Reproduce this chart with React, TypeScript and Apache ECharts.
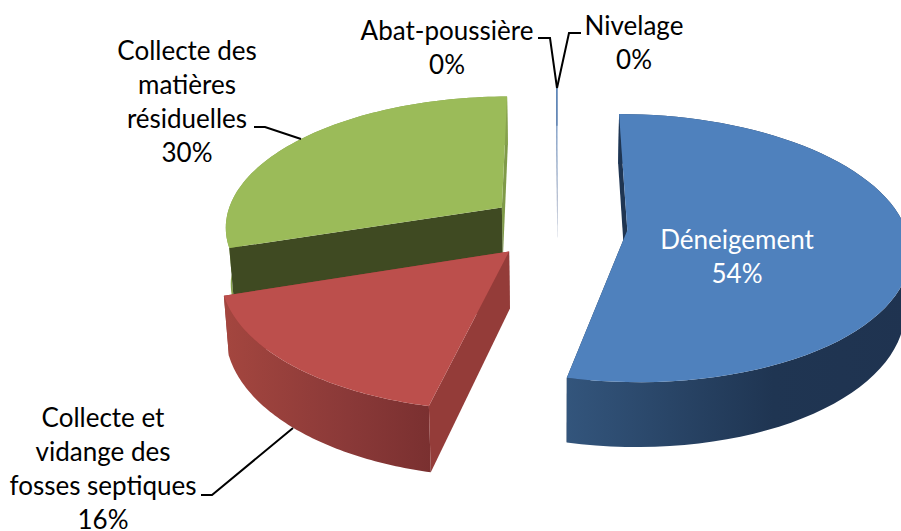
import React, { useEffect, useRef } from "react";
import * as echarts from "echarts";

const categories = ["Déneigement", "Collecte et\nvidange des\nfosses septiques", "Collecte des\nmatières\nrésiduelles", "Abat-poussière", "Nivelage"];
const values = [53.55, 16.45, 29.92, 0.04, 0.04];
const topColors = ["#4f81bd", "#bc4f4c", "#9bbb59", "#4f81bd", "#4f81bd"];
const outerWallStops = [
  ["#33557c", "#1f3552", "#1f3350"],
  ["#a4463f", "#8a3938", "#7a3030"],
  ["#86a24d", "#86a24d", "#86a24d"],
  ["#3a5f8f", "#3a5f8f", "#3a5f8f"],
  ["#3a5f8f", "#3a5f8f", "#3a5f8f"],
];
const startWallColors = ["#1f3552", "#943c39", "#3f4a22", "#8090b0", "#8090b0"];
const endWallColors = ["#1f3552", "#943c39", "#7f9a48", "#8090b0", "#8090b0"];
const sliceDepths = [56, 56, 56, 46, 46];
const paintOrder = [2, 3, 0, 1, 1];

// projection of the pie's ground plane
const VX = 557.5, VY = 226.5, K = 0.47, B = 0.00048, R = 278, EXPLODE = 70, CONVERGE = 0.015;
const total = values.reduce((a, b) => a + b, 0);

function project(X: number, Y: number, depth: number) {
  const s = 1 / (1 + B * Y);
  const x = VX + X * s;
  const y = VY - K * Y * s;
  if (depth === 0) return [x, y];
  return [x + (VX - x) * CONVERGE, y + depth * s];
}

function renderItem(params: any, api: any) {
  const i = params.dataIndex;
  const before = values.slice(0, i).reduce((a, b) => a + b, 0);
  const a0 = (before / total) * Math.PI * 2;
  const a1 = a0 + (api.value(0) / total) * Math.PI * 2;
  const mid = (a0 + a1) / 2;
  const ex = EXPLODE * Math.sin(mid), ey = EXPLODE * Math.cos(mid);
  const n = 72;
  const rim = (depth: number) => {
    const pts: number[][] = [];
    for (let t = 0; t <= n; t++) {
      const a = a0 + ((a1 - a0) * t) / n;
      pts.push(project(ex + R * Math.sin(a), ey + R * Math.cos(a), depth));
    }
    return pts;
  };
  const d = sliceDepths[i];
  const apexTop = project(ex, ey, 0);
  const apexBottom = project(ex, ey, d);
  const rimTop = rim(0);
  const rimBottom = rim(d);
  const base = paintOrder[i] * 10;
  const stops = outerWallStops[i];
  return {
    type: "group",
    children: [
      {
        type: "polygon", z2: base + 1, silent: true,
        shape: { points: [apexTop, rimTop[n], rimBottom[n], apexBottom] },
        style: { fill: endWallColors[i] },
      },
      {
        type: "polygon", z2: base + 2, silent: true,
        shape: { points: [...rimTop, ...rimBottom.slice().reverse()] },
        style: {
          fill: new echarts.graphic.LinearGradient(0, 0, 1, 0, [
            { offset: 0, color: stops[0] },
            { offset: 0.6, color: stops[1] },
            { offset: 1, color: stops[2] },
          ]),
        },
      },
      {
        type: "polygon", z2: base + 3, silent: true,
        shape: { points: [apexTop, rimTop[0], rimBottom[0], apexBottom] },
        style: { fill: startWallColors[i] },
      },
      {
        type: "polygon", z2: base + 4, silent: true,
        shape: { points: [apexTop, ...rimTop] },
        style: { fill: topColors[i] },
      },
    ],
  };
}

const FONT = "Lato";
const FS = 26;
function pct(i: number) {
  return Math.round((values[i] / total) * 100) + "%";
}
function label(i: number, x: number, y: number, fill = "#000000") {
  return {
    type: "text", x, y, z: 10,
    style: {
      text: categories[i] + "\n" + pct(i),
      fill, font: `${FS}px ${FONT}`, lineHeight: 34,
      align: "center", verticalAlign: "top",
    },
  };
}
function leader(points: number[][]) {
  return { type: "polyline", z: 9, shape: { points }, style: { stroke: "#000000", lineWidth: 2, fill: "none" } };
}

export default function App() {
  const ref = useRef<HTMLDivElement>(null);
  useEffect(() => {
    const chart = echarts.init(ref.current!, null, { renderer: "svg" });
    chart.setOption({
      animation: false,
      series: [
        {
          type: "custom",
          coordinateSystem: "none",
          renderItem,
          silent: true,
          data: values.map((v, i) => ({ name: categories[i], value: [v] })),
        },
      ],
      graphic: [
        label(0, 737, 222, "#ffffff"),
        label(1, 103, 400),
        label(2, 187, 33),
        label(3, 447, 13),
        label(4, 634, 8),
        leader([[538, 38], [550, 38], [557, 88]]),
        leader([[581, 33], [569, 33], [557, 88]]),
        leader([[254, 127], [265, 127], [301, 139]]),
        leader([[201, 495], [212, 495], [293, 428]]),
      ],
    });
    return () => chart.dispose();
  }, []);
  return <div ref={ref} style={{ position: "fixed", left: 0, top: 0, width: 901, height: 531, background: "#fff" }} />;
}
